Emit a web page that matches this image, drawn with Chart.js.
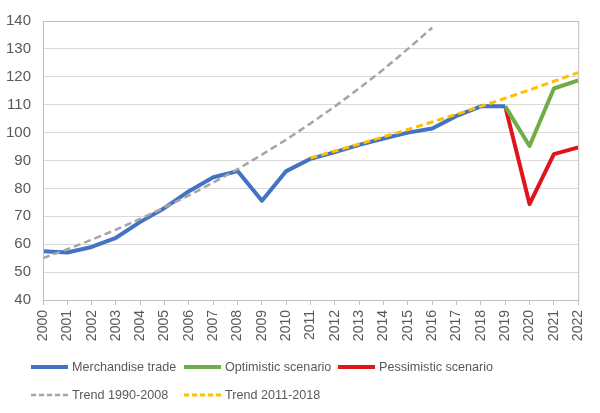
<!DOCTYPE html>
<html>
<head>
<meta charset="utf-8">
<script src="https://cdn.jsdelivr.net/npm/chart.js@4.4.1/dist/chart.umd.min.js"></script>
<style>
  html, body { margin: 0; padding: 0; background: #fff; }
  #wrap { width: 600px; height: 413px; }
</style>
</head>
<body>
<div id="wrap"><canvas id="chart" width="600" height="413"></canvas></div>
<script>
// datos
const years = ['2000','2001','2002','2003','2004','2005','2006','2007','2008','2009','2010',
               '2011','2012','2013','2014','2015','2016','2017','2018','2019','2020','2021','2022'];
const merchandise = [57.5, 57, 59, 62.3, 68, 73, 79, 84, 86.2, 75.6, 86.2,
                     90.6, 93, 95.6, 97.9, 100, 101.5, 106, 109.4, 109.4, null, null, null];
const optimistic = [null, null, null, null, null, null, null, null, null, null, null,
                    null, null, null, null, null, null, null, null, 109.4, 95.2, 115.8, 118.7];
const pessimistic = [null, null, null, null, null, null, null, null, null, null, null,
                     null, null, null, null, null, null, null, null, 109.4, 74.4, 92.3, 94.7];
const trend9008 = [55, 58.2, 61.6, 65.2, 69.1, 73.2, 77.5, 82.1, 86.9, 92.1, 97.5,
                   103.3, 109.4, 115.9, 122.7, 130, 137.6, null, null, null, null, null, null];
const trend1118 = [null, null, null, null, null, null, null, null, null, null, null,
                   90.9, 93.4, 95.9, 98.5, 101.1, 103.8, 106.6, 109.4, 112.3, 115.3, 118.4, 121.5];
const yTicks = [40, 50, 60, 70, 80, 90, 100, 110, 120, 130, 140];

const FONT = '"Liberation Sans", Arial, sans-serif';
const TXT = '#595959';

// leyenda tipo Excel (dos filas, columnas alineadas)
const legendSlots = [
    { ds: 0, x: 31, y: 367 },
    { ds: 1, x: 184, y: 367 },
    { ds: 2, x: 338, y: 367 },
    { ds: 3, x: 31, y: 395 },
    { ds: 4, x: 184, y: 395 }
];

const legendExcel = {
    id: 'legendExcel',
    afterDraw(chart) {
        const ctx = chart.ctx;
        ctx.save();
        // borde del area de trazado
        const a = chart.chartArea;
        ctx.strokeStyle = '#BFBFBF';
        ctx.lineWidth = 1;
        ctx.strokeRect(a.left + 0.5, a.top + 0.5, a.right - a.left, a.bottom - a.top);

        ctx.font = '12.6px ' + FONT;
        ctx.textBaseline = 'middle';
        legendSlots.forEach(s => {
            const ds = chart.data.datasets[s.ds];
            ctx.strokeStyle = ds.borderColor;
            ctx.lineWidth = ds.borderWidth;
            ctx.setLineDash(ds.legendDash || []);
            ctx.beginPath();
            ctx.moveTo(s.x, s.y);
            ctx.lineTo(s.x + 37, s.y);
            ctx.stroke();
            ctx.setLineDash([]);
            ctx.fillStyle = TXT;
            ctx.fillText(ds.label, s.x + 41, s.y + 1);
        });
        ctx.restore();
    }
};

new Chart(document.getElementById('chart'), {
    type: 'line',
    data: {
        labels: years,
        datasets: [
            { label: 'Merchandise trade', data: merchandise, borderColor: '#4472C4', borderWidth: 4, order: 3 },
            { label: 'Optimistic scenario', data: optimistic, borderColor: '#70AD47', borderWidth: 4, order: 4 },
            { label: 'Pessimistic scenario', data: pessimistic, borderColor: '#E0141B', borderWidth: 4, order: 5 },
            { label: 'Trend 1990-2008', data: trend9008, borderColor: '#A5A5A5', borderWidth: 2.5, borderDash: [7, 4], legendDash: [5, 3], order: 1 },
            { label: 'Trend 2011-2018', data: trend1118, borderColor: '#FFC000', borderWidth: 3, borderDash: [7, 4], legendDash: [5, 3], order: 2 }
        ]
    },
    options: {
        responsive: false,
        animation: false,
        elements: {
            point: { radius: 0, hoverRadius: 0 },
            line: { tension: 0, fill: false, borderCapStyle: 'butt', borderJoinStyle: 'round' }
        },
        layout: { padding: { top: 10, right: 21, left: 0, bottom: 0 } },
        plugins: {
            legend: { display: false },
            tooltip: { enabled: false }
        },
        scales: {
            x: {
                type: 'category',
                offset: false,
                grid: { display: true, drawOnChartArea: false, drawTicks: true, tickLength: 5, color: '#BFBFBF' },
                border: { display: true, color: '#BFBFBF' },
                ticks: {
                    color: TXT, font: { family: FONT, size: 14 },
                    minRotation: 90, maxRotation: 90, autoSkip: false, padding: 5
                },
                afterFit(scale) { scale.height = 113; }
            },
            y: {
                min: 40,
                max: 140,
                afterBuildTicks(scale) { scale.ticks = yTicks.map(v => ({ value: v })); },
                grid: { color: '#D9D9D9', drawTicks: false },
                border: { display: true, color: '#BFBFBF' },
                ticks: { color: TXT, font: { family: FONT, size: 15 }, padding: 12 },
                afterFit(scale) { scale.width = 43; }
            }
        }
    },
    plugins: [legendExcel]
});
</script>
</body>
</html>
